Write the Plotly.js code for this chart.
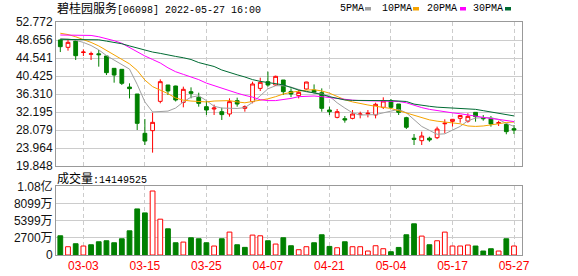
<!DOCTYPE html>
<html>
<head>
<meta charset="utf-8">
<script src="https://cdn.plot.ly/plotly-3.0.1.min.js"></script>
<style>html,body{margin:0;padding:0;background:#fff;}#chart{width:578px;height:276px;}</style>
</head>
<body>
<div id="chart"></div>
<script>
const dates = ["02-28","03-01","03-02","03-03","03-04","03-07","03-08","03-09","03-10","03-11",
"03-14","03-15","03-16","03-17","03-18","03-21","03-22","03-23","03-24","03-25",
"03-28","03-29","03-30","03-31","04-01","04-04","04-06","04-07","04-08","04-11",
"04-12","04-13","04-14","04-19","04-20","04-21","04-22","04-25","04-26","04-27",
"04-28","04-29","05-03","05-04","05-05","05-06","05-10","05-11","05-12","05-13",
"05-16","05-17","05-18","05-19","05-20","05-23","05-24","05-25","05-26","05-27"];

const openP = [48.66,46.98,48.43,45.8,45.4,45.5,45.0,42.18,41.95,37.9,
36.31,27.32,27.93,34.63,38.37,38.14,34.4,36.84,35.55,33.41,
32.88,32.27,31.74,34.79,33.03,34.56,37.6,39.13,38.37,39.51,
36.9,35.93,37.45,37.2,36.61,32.65,30.97,30.67,30.74,31.6,
31.74,31.51,33.26,34.79,34.02,30.9,26.2,25.64,26.2,26.32,
29.5,30.06,30.75,30.1,32.12,30.9,30.74,29.6,29.37,28.38];
const highP = [48.81,48.66,48.6,46.52,45.99,46.37,45.0,42.18,41.95,38.75,
36.31,30.6,32.04,39.66,38.37,38.2,37.99,37.83,36.61,34.71,
33.87,33.18,35.32,35.47,33.7,39.13,40.04,41.42,40.5,39.51,
37.6,37.2,39.1,38.5,37.6,33.4,32.88,31.28,32.65,32.27,
32.65,34.33,35.55,35.17,34.02,31.1,27.16,27.7,26.55,28.84,
30.52,30.6,31.51,31.9,32.12,31.5,31.28,30.2,29.6,29.22];
const lowP = [45.9,46.22,44.08,45.0,44.08,42.56,40.65,38.9,38.37,35.3,
28.08,24.65,22.9,34.18,36.08,34.6,33.26,35.32,33.41,31.51,
31.51,30.37,31.13,33.41,32.27,34.18,36.99,37.99,38.14,36.08,
35.6,35.3,37.3,36.46,32.27,31.5,30.74,29.75,30.52,30.74,
30.97,30.74,32.88,32.88,31.51,28.3,24.65,24.65,25.4,26.0,
27.32,28.84,29.75,29.75,29.98,30.2,28.84,29.0,27.1,27.16];
const closeP = [47.13,48.12,45.07,45.9,45.5,45.3,41.19,40.65,38.75,37.53,
29.6,25.55,29.83,39.13,37.0,34.94,37.38,36.46,34.17,32.65,
33.1,31.6,34.56,34.02,33.41,38.6,38.98,38.37,40.35,36.84,
36.31,36.69,39.05,36.69,33.03,32.27,32.27,30.37,31.74,31.74,
31.9,33.95,34.71,33.26,32.12,28.7,25.95,26.7,25.8,28.3,
29.63,30.52,31.4,31.2,31.13,30.67,29.45,29.75,27.7,28.08];

const ma5 = [49.0,48.9,48.6,48.1,47.4,46.4,45.1,44.0,43.0,42.0,
38.5,34.5,32.2,32.3,32.4,33.1,34.5,35.6,35.9,34.8,
33.5,33.1,33.0,33.0,33.2,34.4,35.9,37.5,38.2,38.2,
37.9,37.3,36.8,36.6,36.3,35.8,34.3,33.1,32.0,31.5,
31.5,31.6,32.0,32.4,32.8,32.0,30.4,28.9,28.0,27.1,
27.2,28.0,28.9,30.2,30.8,30.9,30.9,30.5,29.6,28.9];
const ma10 = [50.2,49.9,49.4,48.8,48.1,47.3,46.3,45.3,44.3,43.2,
41.7,39.5,38.0,37.2,36.4,35.4,34.9,34.7,34.55,34.5,
34.7,34.8,34.8,34.5,34.3,34.6,34.9,35.2,35.7,36.3,
36.7,37.0,37.2,37.3,37.0,36.5,35.8,35.0,34.5,34.1,
33.8,33.5,33.3,33.0,32.5,32.0,31.4,30.9,30.4,30.1,
29.9,29.75,29.5,29.0,28.9,29.0,29.2,29.5,29.8,29.9];
const ma20 = [49.8,49.8,49.8,49.8,49.7,49.4,49.0,48.5,47.9,46.9,
46.0,45.0,44.2,43.4,42.3,41.4,40.8,40.2,39.6,38.8,
38.2,37.6,37.0,36.5,36.0,35.6,35.0,34.8,34.8,35.0,
35.3,35.7,35.8,35.85,35.7,35.5,35.2,35.0,34.9,34.8,
34.75,34.7,34.65,34.6,34.6,34.3,33.7,33.2,32.8,32.5,
32.2,32.0,31.8,31.5,31.3,31.0,30.7,30.5,30.3,30.0];
const ma30 = [48.8,48.8,48.78,48.77,48.75,48.7,48.4,48.1,47.8,47.3,
46.8,46.3,45.9,45.6,45.2,44.9,44.6,44.2,43.5,43.1,
42.6,41.8,41.2,40.7,40.2,39.6,39.2,38.9,38.7,38.4,
37.8,37.2,36.9,36.6,36.2,35.7,35.3,34.95,34.85,34.8,
34.8,34.8,34.8,34.8,34.75,34.6,34.0,33.7,33.5,33.3,
33.2,33.1,33.0,32.9,32.8,32.5,32.2,31.9,31.6,31.3];

// volume in 万 (10,000 shares)
const volume = [3020,1300,1770,1410,1610,2080,2240,1925,2550,3800,
7245,6620,10060,5630,4115,1925,2030,2710,2550,1925,
1410,2550,3600,1610,1200,3130,3020,2240,1720,2710,
1455,830,1300,1925,3180,1350,1140,2080,1300,1300,
625,1455,985,515,1190,3180,4900,2970,1610,2240,
3600,1410,1410,1565,1410,625,985,625,2550,1415];
const volUp = [0,1,0,1,0,0,0,0,0,0, 0,0,1,1,0,0,1,0,0,0,
1,0,1,0,0,1,1,0,1,0, 0,1,1,0,0,0,1,0,1,1,
1,1,1,0,0,0,0,1,0,1, 1,1,1,1,0,0,0,1,0,1];

const priceTicks = [19.848,23.964,28.079,32.195,36.310,40.425,44.541,48.656,52.772];
const priceTickText = ["19.848","23.964","28.079","32.195","36.310","40.425","44.541","48.656","52.772"];
const volTicks = [0,2700,5399,8099,10798];
const volTickText = ["0","2700万","5399万","8099万","1.08亿"];
const dateTicks = ["03-03","03-15","03-25","04-07","04-21","05-04","05-17","05-27"];
const maNames = ["5PMA","10PMA","20PMA","30PMA"];
const maColors = ["#a0a0a0","#f5a300","#ff00ff","#006b33"];
const titleText = "碧桂园服务";
const titleCode = "[06098] 2022-05-27 16:00";
const volLabel = "成交量";
const volLabelValue = ":14149525";

const RED = "#ff0000", GREEN = "#008000";

const traces = [];
traces.push({
  type: "candlestick", x: dates, open: openP, high: highP, low: lowP, close: closeP,
  xaxis: "x", yaxis: "y",
  increasing: {line: {color: RED, width: 1}, fillcolor: "#ffffff"},
  decreasing: {line: {color: GREEN, width: 1}, fillcolor: GREEN},
  whiskerwidth: 0, showlegend: false, hoverinfo: "skip"
});
[ma5, ma10, ma20, ma30].forEach((m, k) => {
  traces.push({type: "scatter", mode: "lines", x: dates, y: m, xaxis: "x", yaxis: "y",
    line: {color: maColors[k], width: 1}, showlegend: false, hoverinfo: "skip"});
});
traces.push({
  type: "bar", x: dates, y: volume, xaxis: "x", yaxis: "y2", width: 0.62,
  marker: {color: volUp.map(u => u ? "#ffffff" : GREEN),
           line: {color: volUp.map(u => u ? RED : GREEN), width: 1}},
  showlegend: false, hoverinfo: "skip"
});

// pixel helpers for plot area 56..522 x, 22..255 y
const px = v => (v - 56) / 466;
const py = v => (255 - v) / 233;

const annotations = [
  {text: titleText + '<span style="font-family:Liberation Mono;font-size:10px">' + titleCode + '</span>',
   xref: "paper", yref: "paper", x: px(55), y: py(8), xanchor: "left", yanchor: "middle",
   showarrow: false, font: {size: 12, color: "#000", family: "Noto Sans CJK SC"}},
  {text: volLabel + '<span style="font-family:Liberation Mono;font-size:10px">' + volLabelValue + '</span>',
   xref: "paper", yref: "paper", x: px(55), y: py(177), xanchor: "left", yanchor: "middle",
   showarrow: false, font: {size: 12, color: "#000", family: "Noto Sans CJK SC"}}
];
const legX = [338, 380, 425, 471];
const sqX = [365, 413, 460, 505];
const shapes = [];
maNames.forEach((n, k) => {
  annotations.push({text: n, xref: "paper", yref: "paper", x: px(legX[k]), y: py(8.5),
    xanchor: "left", yanchor: "middle", showarrow: false,
    font: {size: 10, color: "#000", family: "Liberation Mono"}});
  shapes.push({type: "rect", xref: "paper", yref: "paper", x0: px(sqX[k]), x1: px(sqX[k] + 6),
    y0: py(10.5), y1: py(7), fillcolor: maColors[k], line: {width: 0}});
});

const layout = {
  width: 578, height: 276,
  margin: {l: 56, r: 56, t: 22, b: 21, pad: 0},
  paper_bgcolor: "#ffffff", plot_bgcolor: "#ffffff",
  font: {family: "Liberation Sans, Noto Sans CJK SC", size: 12, color: "#111"},
  showlegend: false, hovermode: false, dragmode: false,
  bargap: 0.3,
  xaxis: {
    type: "category", anchor: "y2", range: [-0.56, 60.04],
    tickmode: "array", tickvals: dateTicks, ticktext: dateTicks,
    ticks: "", showgrid: true, gridcolor: "#cccccc", griddash: "4px,3px", gridwidth: 1,
    showline: true, mirror: "all", linecolor: "#999999", linewidth: 1,
    tickfont: {color: RED, size: 12, family: "Liberation Sans"},
    rangeslider: {visible: false}, zeroline: false, fixedrange: true
  },
  yaxis: {
    domain: [py(166), 1], range: [19.848, 52.772],
    tickmode: "array", tickvals: priceTicks, ticktext: priceTickText,
    ticks: "", showgrid: true, gridcolor: "#cccccc", gridwidth: 1,
    showline: true, mirror: true, linecolor: "#999999", linewidth: 1,
    zeroline: false, fixedrange: true, automargin: false,
    tickfont: {size: 12, color: "#111"}
  },
  yaxis2: {
    domain: [0, py(186.3)], range: [0, 10798],
    tickmode: "array", tickvals: volTicks, ticktext: volTickText,
    ticks: "", showgrid: true, gridcolor: "#cccccc", gridwidth: 1,
    showline: true, mirror: true, linecolor: "#999999", linewidth: 1,
    zeroline: false, fixedrange: true, automargin: false,
    tickfont: {size: 12, color: "#111"}
  },
  annotations: annotations,
  shapes: shapes
};

Plotly.newPlot("chart", traces, layout, {displayModeBar: false, staticPlot: true});
</script>
</body>
</html>
